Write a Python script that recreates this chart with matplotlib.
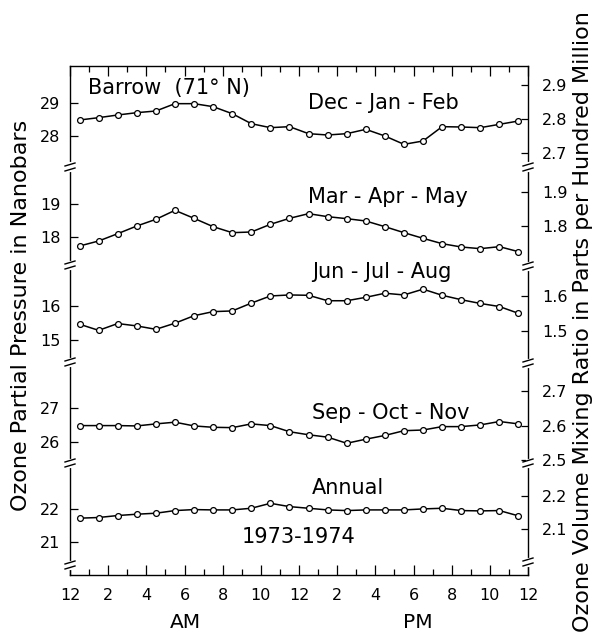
import numpy as np
import matplotlib
matplotlib.use("Agg")
import matplotlib.pyplot as plt
from matplotlib import font_manager
from matplotlib.lines import Line2D
from matplotlib.ticker import FormatStrFormatter, FixedLocator

# Diurnal variation of surface ozone at Barrow, 1973-1974
# hour-of-day midpoints (local time, 0 = midnight)
hours = np.arange(24) + 0.5

# ozone partial pressure, nanobars
djf = [28.48, 28.55, 28.63, 28.70, 28.75, 28.97, 28.97, 28.88, 28.67, 28.37, 28.25, 28.28,
       28.07, 28.03, 28.07, 28.20, 28.00, 27.75, 27.85, 28.28, 28.27, 28.25, 28.35, 28.45]
mam = [17.73, 17.88, 18.10, 18.33, 18.53, 18.80, 18.56, 18.31, 18.13, 18.15, 18.38, 18.56,
       18.70, 18.61, 18.55, 18.48, 18.31, 18.13, 17.96, 17.80, 17.70, 17.65, 17.71, 17.56]
jja = [15.46, 15.28, 15.48, 15.41, 15.31, 15.49, 15.71, 15.83, 15.85, 16.08, 16.29, 16.32,
       16.31, 16.15, 16.15, 16.25, 16.37, 16.32, 16.49, 16.31, 16.18, 16.07, 15.98, 15.78]
son = [26.48, 26.48, 26.48, 26.47, 26.53, 26.58, 26.47, 26.43, 26.42, 26.53, 26.48, 26.30,
       26.21, 26.14, 25.96, 26.08, 26.19, 26.33, 26.35, 26.45, 26.45, 26.50, 26.60, 26.53]
annual = [21.72, 21.74, 21.80, 21.84, 21.87, 21.95, 21.98, 21.97, 21.97, 22.02, 22.17, 22.07,
          22.02, 21.97, 21.95, 21.97, 21.97, 21.97, 22.00, 22.02, 21.95, 21.94, 21.95, 21.79]

series = [djf, mam, jja, son, annual]
series_names = ["Dec - Jan - Feb", "Mar - Apr - May", "Jun - Jul - Aug", "Sep - Oct - Nov", "Annual"]

# partial-pressure ticks (left) and mixing-ratio ticks (right) per panel
left_ticks = [[28, 29], [18, 19], [15, 16], [26, 27], [21, 22]]
right_ticks = [[2.7, 2.8, 2.9], [1.8, 1.9], [1.5, 1.6], [2.5, 2.6, 2.7], [2.1, 2.2]]
panel_ylims = [(27.07, 30.10), (17.16, 20.10), (14.35, 17.20), (25.38, 28.35), (20.00, 23.39)]

hour_ticks = list(range(0, 25, 2))
hour_tick_labels = ["12", "2", "4", "6", "8", "10", "12", "2", "4", "6", "8", "10", "12"]

# nanobars -> parts per hundred million at station pressure
nb_to_pphm = 0.0982

installed = {f.name for f in font_manager.fontManager.ttflist}
num_font = "Liberation Sans Narrow" if "Liberation Sans Narrow" in installed else "DejaVu Sans"
num_size = 13.5 if num_font != "DejaVu Sans" else 11.5

W, H = 597, 634
fig = plt.figure(figsize=(W / 100, H / 100), dpi=100)
fig.patch.set_facecolor("white")

x_left, x_right = 70, 528
edges = [66, 167, 265, 362, 463, 575]


def fx(px):
    return px / W


def fy(py):
    return 1 - py / H


for i, vals in enumerate(series):
    top, bot = edges[i], edges[i + 1]
    ax = fig.add_axes([fx(x_left), fy(bot), (x_right - x_left) / W, (bot - top) / H])
    ax.set_facecolor("none")
    ax.plot(hours, vals, "-o", color="black", lw=1.1, ms=4.2, mfc="white",
            mec="black", mew=0.9, clip_on=False, zorder=3)
    ax.set_xlim(0, 24)
    ax.set_ylim(*panel_ylims[i])

    for side in ("left", "right", "top", "bottom"):
        ax.spines[side].set_linewidth(1.0)
        ax.spines[side].set_color("black")
    ax.spines["right"].set_visible(False)
    ax.spines["top"].set_visible(i == 0)
    ax.spines["bottom"].set_visible(i == 4)

    ax.xaxis.set_major_locator(FixedLocator(hour_ticks))
    ax.xaxis.set_minor_locator(FixedLocator(list(range(0, 25))))
    ax.tick_params(axis="x", which="both", direction="in", bottom=(i == 4), top=(i == 0),
                   labelbottom=(i == 4), labeltop=False, width=0.9, color="black")
    ax.tick_params(axis="x", which="major", length=7)
    ax.tick_params(axis="x", which="minor", length=4.5)
    if i == 4:
        ax.set_xticklabels(hour_tick_labels, fontfamily=num_font, fontsize=num_size)
        ax.tick_params(axis="x", which="major", pad=9)

    ax.set_yticks(left_ticks[i])
    ax.set_yticklabels([str(t) for t in left_ticks[i]], fontfamily=num_font, fontsize=num_size)
    ax.tick_params(axis="y", direction="in", length=6, width=0.9, pad=7)

    sec = ax.secondary_yaxis("right", functions=(lambda v: v * nb_to_pphm,
                                                 lambda v: v / nb_to_pphm))
    sec.set_yticks(right_ticks[i])
    sec.yaxis.set_major_formatter(FormatStrFormatter("%.1f"))
    sec.tick_params(direction="in", length=5, width=0.9, pad=10)
    for lab in sec.get_yticklabels():
        lab.set_fontfamily(num_font)
        lab.set_fontsize(num_size)
    sec.spines["right"].set_linewidth(1.0)

    fig.text(fx(308 if i < 2 else 312), fy([103, 197, 272, 413, 488][i]), series_names[i],
             ha="left", va="center", fontsize=15)


def axis_break(px, py):
    """Double-stroke break symbol across a vertical spine."""
    fig.add_artist(Line2D([fx(px), fx(px)], [fy(py - 2.5), fy(py + 2.5)],
                          color="white", lw=3, zorder=20))
    for d in (-2.5, 2.5):
        fig.add_artist(Line2D([fx(px - 5), fx(px + 5)], [fy(py + d + 1.5), fy(py + d - 1.5)],
                              color="black", lw=1.0, zorder=21))


for yb in (167, 265, 362, 463, 565):
    axis_break(x_left, yb)
for yb in (167, 266, 363, 463, 562):
    axis_break(x_right, yb)

fig.text(fx(88), fy(88), "Barrow  (71° N)", ha="left", va="center", fontsize=15)
fig.text(fx(242), fy(537), "1973-1974", ha="left", va="center", fontsize=15)
fig.text(fx(185), fy(622), "AM", ha="center", va="center", fontsize=14.5)
fig.text(fx(418), fy(622), "PM", ha="center", va="center", fontsize=14.5)
fig.text(fx(21), fy(315), "Ozone Partial Pressure in Nanobars", rotation=90,
         ha="center", va="center", fontsize=16)
fig.text(fx(583), fy(322), "Ozone Volume Mixing Ratio in Parts per Hundred Million",
         rotation=90, ha="center", va="center", fontsize=16)

fig.savefig("out.png", dpi=100)
